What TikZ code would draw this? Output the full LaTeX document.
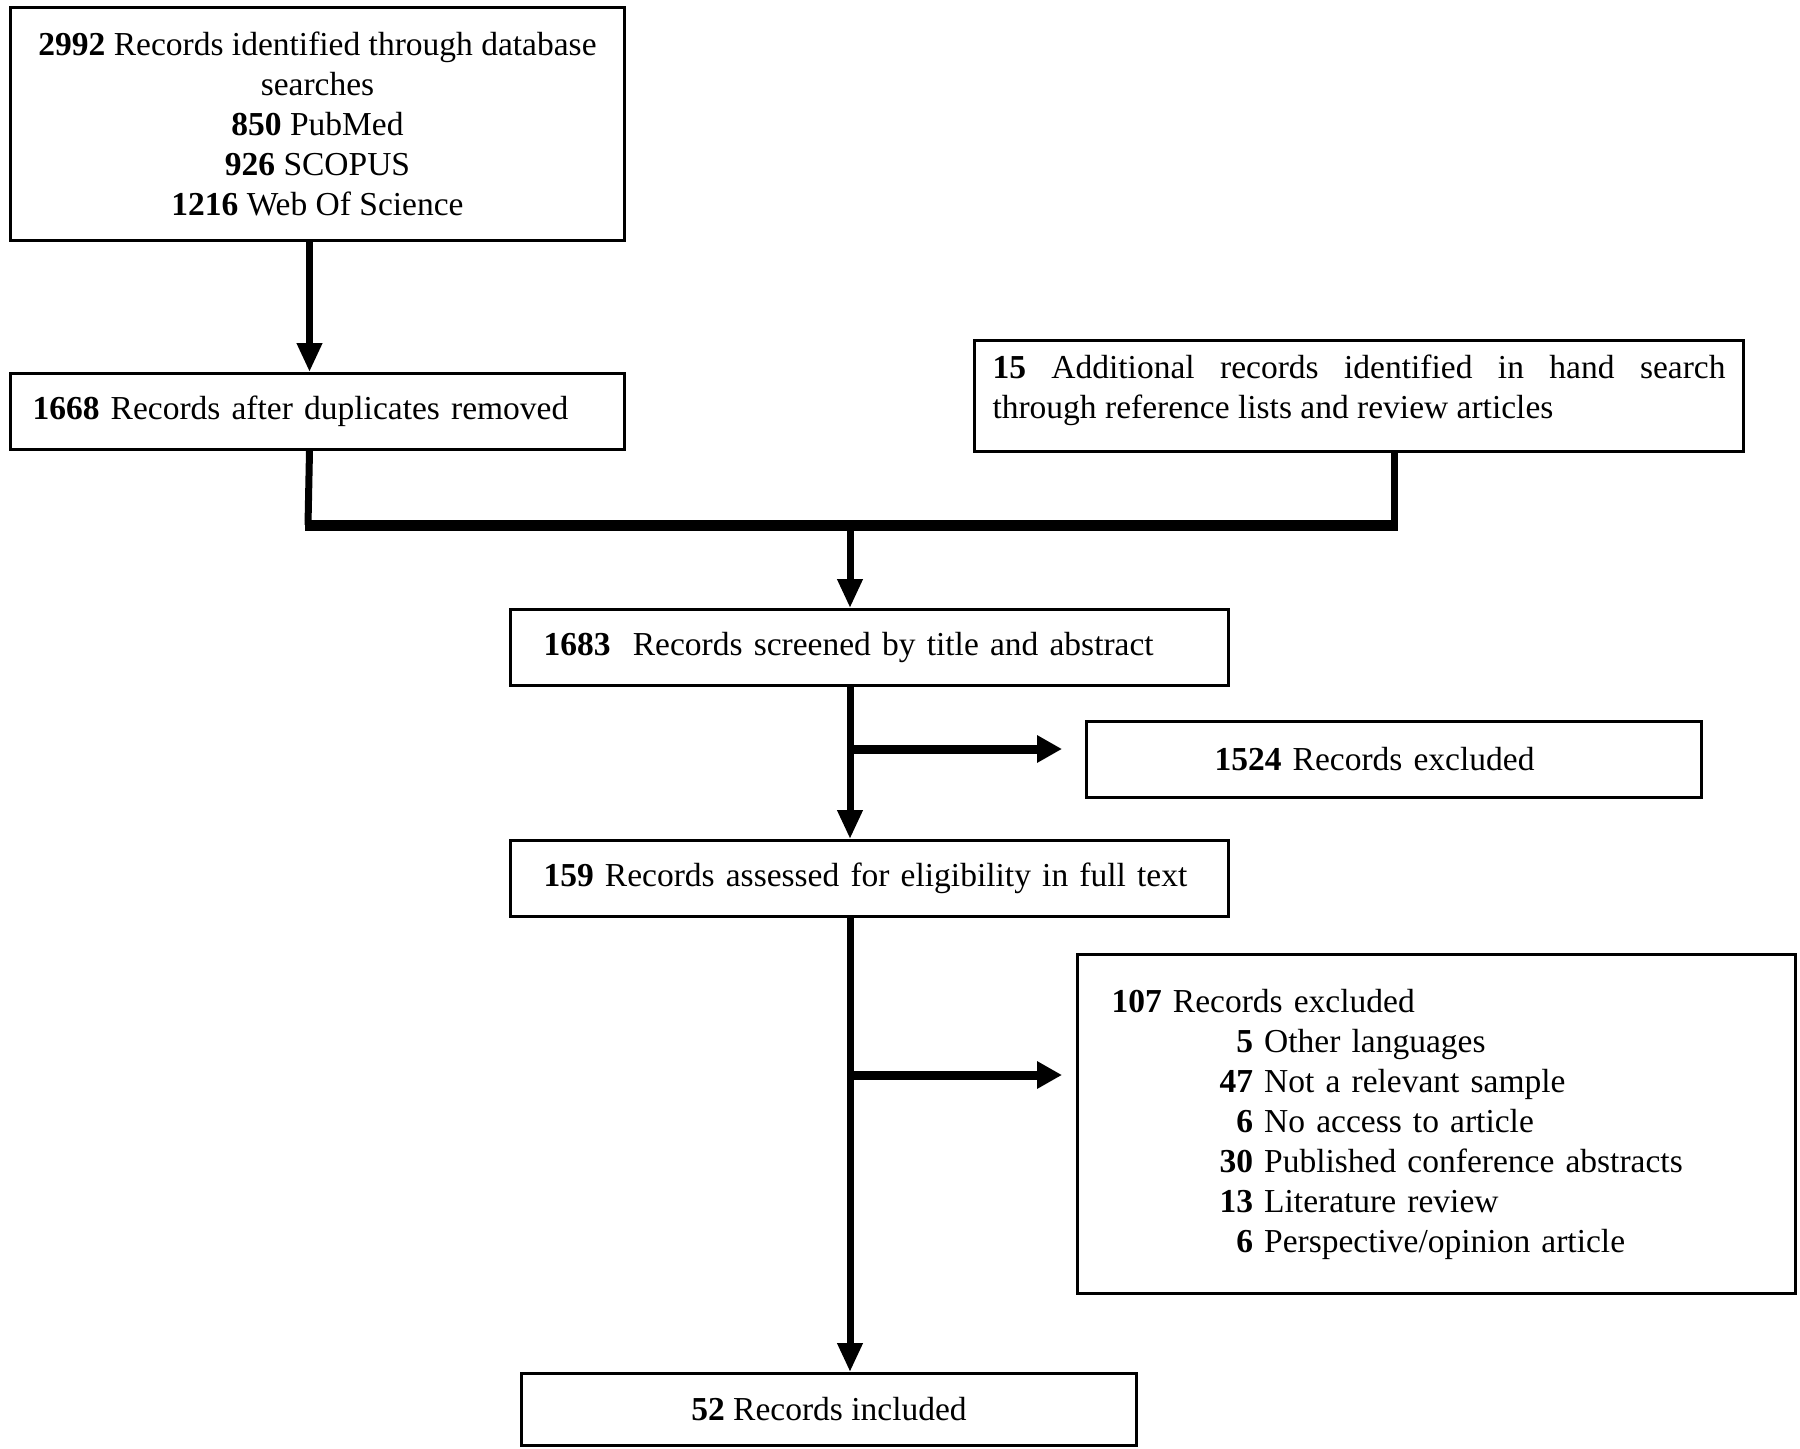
\documentclass[tikz,border=0pt]{standalone}
\usepackage{fontspec}
\setmainfont{Liberation Serif}
\usetikzlibrary{arrows.meta}
\begin{document}
\begin{tikzpicture}[x=1pt,y=-1pt,
  box/.style={draw, line width=3pt, rectangle, anchor=north west, font=\fontsize{33.5}{40}\selectfont, inner ysep=0pt},
  arr/.style={line width=7pt, -{Triangle[length=29pt,width=24pt]}},
  leg/.style={line width=7pt},
  bar/.style={line width=11pt},
  side/.style={line width=9pt, -{Triangle[length=25pt,width=26pt]}}
]
\useasboundingbox (0,0) rectangle (1800,1449);
\fill[white] (0,0) rectangle (1800,1449);

\node[box, minimum width=614pt, minimum height=233pt, align=center] (b1) at (9,6)
  {\textbf{2992} Records identified through database\\ searches\\ \textbf{850} PubMed\\ \textbf{926} SCOPUS\\ \textbf{1216} Web Of Science};

\node[box, minimum height=76pt, text width=570pt, inner xsep=22pt, align=left] (b2) at (9,372)
  {\textbf{1668} Records after duplicates removed};

\node[box, minimum height=111pt, text width=733pt, inner xsep=18pt, align=justify] (b3) at (973,339)
  {\textbf{15} Additional records identified in hand search\linebreak through reference lists and review articles\vspace{12pt}};

\node[box, minimum height=76pt, text width=652pt, inner xsep=33pt, align=left] (b4) at (509,608)
  {\textbf{1683}\ \ Records screened by title and abstract};

\node[box, minimum height=76pt, text width=359pt, inner xsep=128pt, align=left] (b6) at (1085,720)
  {\textbf{1524} Records excluded};

\node[box, minimum height=76pt, text width=652pt, inner xsep=33pt, align=left] (b5) at (509,839)
  {\textbf{159} Records assessed for eligibility in full text};

\node[box, minimum height=339pt, text width=650pt, inner xsep=34pt, align=left] (b7) at (1076,953)
  {\begin{tabular}{@{}p{108pt}@{}r@{\ }l@{}}
   \multicolumn{3}{@{}l@{}}{\textbf{107} Records excluded}\\
   & \textbf{5} & Other languages\\
   & \textbf{47} & Not a relevant sample\\
   & \textbf{6} & No access to article\\
   & \textbf{30} & Published conference abstracts\\
   & \textbf{13} & Literature review\\
   & \textbf{6} & Perspective/opinion article
   \end{tabular}};

\node[box, minimum width=615pt, minimum height=72pt, align=center] (b8) at (520,1372)
  {\textbf{52} Records included};

\coordinate (jl) at (308,525);
\coordinate (jr) at (1394,525);
\coordinate (jm) at (850,525);
\coordinate (br1) at (847,749);
\coordinate (br2) at (847,1075);

\draw[arr] ([xshift=-8pt]b1.south) -- ([xshift=-8pt]b2.north);
\draw[leg] ([xshift=-8pt]b2.south) -- (jl);
\draw[leg] (b3.south -| jr) -- (jr);
\draw[bar] ([xshift=-3.5pt]jl) -- ([xshift=3.5pt]jr);
\draw[arr] (jm) -- (b4.north -| jm);
\draw[arr] (b4.south -| jm) -- (b5.north -| jm);
\draw[side, shorten >=23pt] (br1) -- (br1 -| b6.west);
\draw[arr] (b5.south -| jm) -- (b8.north -| jm);
\draw[side, shorten >=14pt] (br2) -- (br2 -| b7.west);
\end{tikzpicture}
\end{document}
